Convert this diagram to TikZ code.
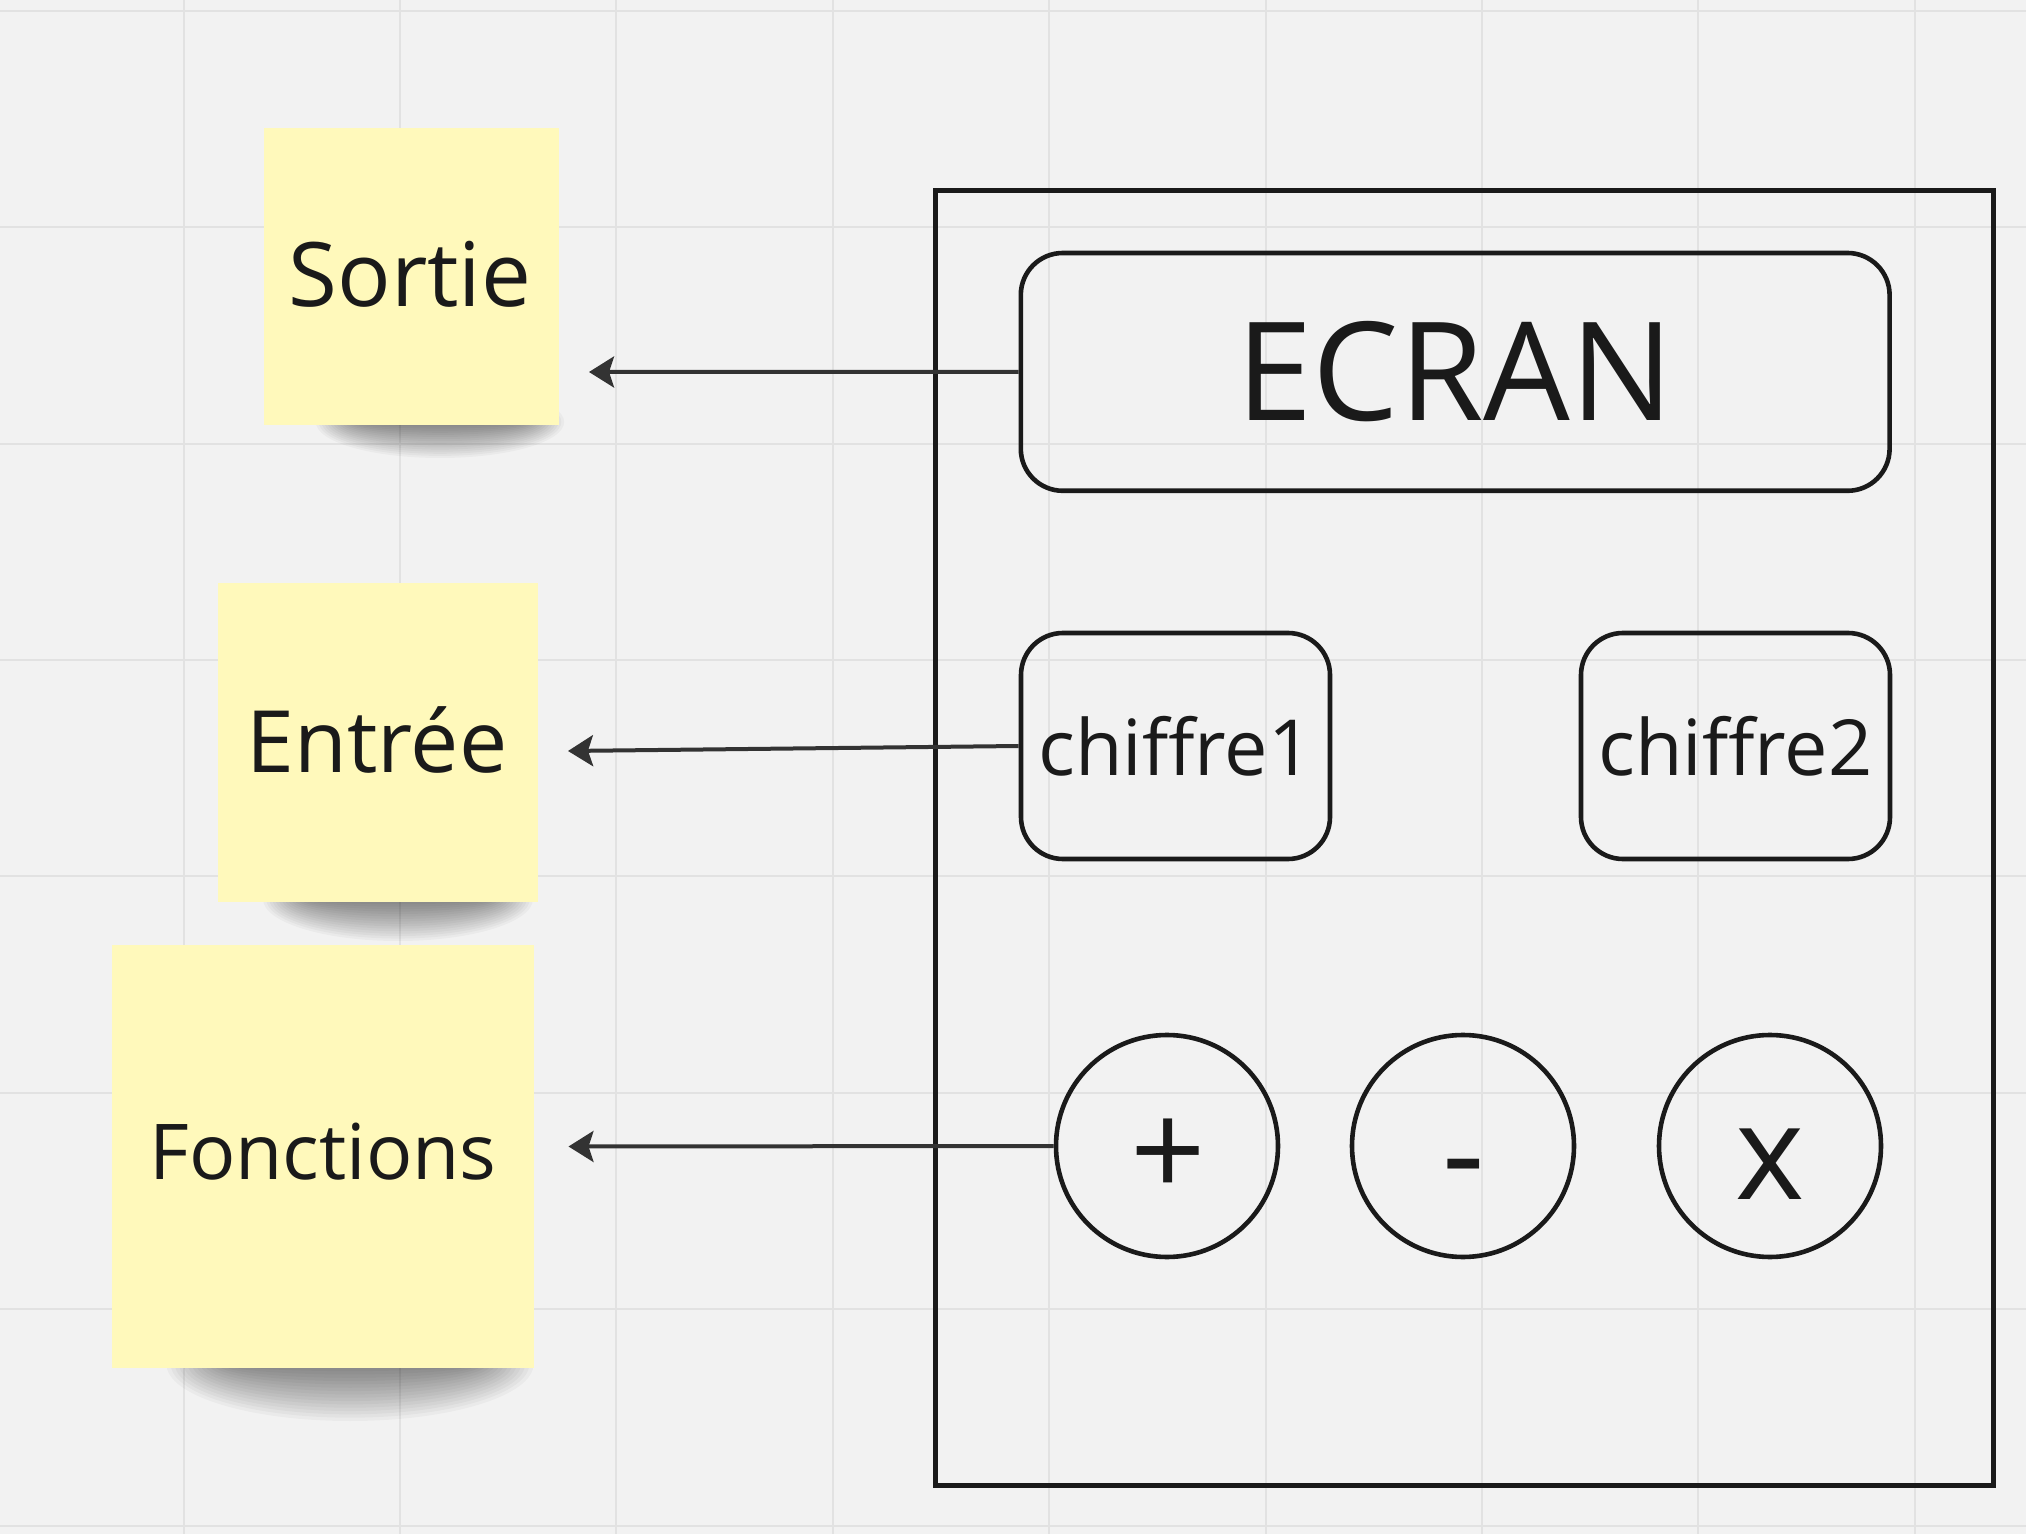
\documentclass[tikz,border=0pt]{standalone}
\usepackage{fontspec}
\setmainfont{Open Sans}
\usetikzlibrary{arrows.meta}
\definecolor{bg}{HTML}{F2F2F2}
\definecolor{gridc}{HTML}{E2E2E2}
\definecolor{ink}{HTML}{1A1A1A}
\definecolor{arrowc}{HTML}{333333}
\definecolor{sticky}{HTML}{FFF9BB}
% #1 centre x, #2 bottom y, #3 half width, #4 depth (all in px units)
\newcommand{\stickyshadow}[4]{%
  \foreach \k in {0,...,15}{%
    \fill[black, opacity=0.03] (#1,#2) ellipse [x radius={(#3*1.08-\k*#3/40)*0.5pt}, y radius={(#4*1.5-\k*#4*1.4/16)*0.5pt}];
  }%
}
\begin{document}
\begin{tikzpicture}[x=0.5pt,y=-0.5pt,
  note/.style={fill=sticky, inner sep=0pt},
  notetext/.style={text=ink, anchor=base, inner sep=0pt},
  rbox/.style={draw=ink, line width=2.3pt, rounded corners=21pt, inner sep=0pt, text=ink},
  opbtn/.style={draw=ink, line width=2.3pt, circle, minimum size=111pt, inner sep=0pt},
  oplabel/.style={text=ink, font=\fontsize{66}{66}\selectfont, anchor=base, inner sep=0pt},
  arr/.style={draw=arrowc, line width=2pt, -{Stealth[length=12.5pt,width=15.5pt,inset=2.5pt]}},
  gridline/.style={draw=gridc, line width=1pt}
]
% background and grid
\fill[bg] (0,0) rectangle (2026,1534);
\useasboundingbox (0,0) rectangle (2026,1534);
\foreach \i in {0,...,8} \draw[gridline] ({183.5+216.4*\i},0) -- ({183.5+216.4*\i},1534);
\foreach \j in {0,...,7} \draw[gridline] (0,{10.8+216.4*\j}) -- (2026,{10.8+216.4*\j});

% shadows of sticky notes
\stickyshadow{440}{422}{115}{24}
\stickyshadow{398}{899}{125}{28}
\stickyshadow{350}{1364}{170}{38}

% sticky notes
\node[note, minimum width=147.5pt, minimum height=148.5pt] (sortie) at (411.5,276.5) {};
\node[note, minimum width=160pt, minimum height=159.5pt] (entree) at (378,742.5) {};
\node[note, minimum width=211pt, minimum height=211.5pt] (fonctions) at (323,1156.5) {};
\node[notetext, font=\fontsize{44.5}{45}\selectfont] (sortieT) at (410,307) {Sortie};
\node[notetext, font=\fontsize{43}{43}\selectfont] (entreeT) at (377,773) {Entrée};
\node[notetext, font=\fontsize{38.5}{39}\selectfont] (fonctionsT) at (323,1179) {Fonctions};

% calculator frame
\node[draw=ink, line width=2.5pt, inner sep=0pt, minimum width=529pt, minimum height=647pt] (calc) at (1464,838) {};

% screen and digit boxes
\node[rbox, minimum width=434.4pt, minimum height=118.9pt, font=\fontsize{68.5}{69}\selectfont] (ecran) at (1455.2,371.9) {ECRAN};
\node[rbox, minimum width=154.5pt, minimum height=113pt, font=\fontsize{38.7}{39}\selectfont] (c1) at (1175.5,746) {chiffre1};
\node[rbox, minimum width=154.5pt, minimum height=113pt, font=\fontsize{38.7}{39}\selectfont] (c2) at (1735.5,746) {chiffre2};

% operation buttons
\node[opbtn] (plus) at (1167,1146) {};
\node[opbtn] (minus) at (1463,1146) {};
\node[opbtn] (times) at (1770,1146) {};
\node[oplabel] (plusT) at (1168,1197) {+};
\node[oplabel] (minusT) at (1464,1199) {-};
\node[oplabel] (timesT) at (1770,1199) {x};

% connectors
\coordinate (tS) at (589,372);
\coordinate (tE) at (568,751);
\coordinate (tF) at (568.5,1146.5);
\draw[arr] (ecran.west) -- (tS);
\draw[arr] (c1.west) -- (tE);
\draw[arr] (plus.west) -- (tF);
\end{tikzpicture}
\end{document}
